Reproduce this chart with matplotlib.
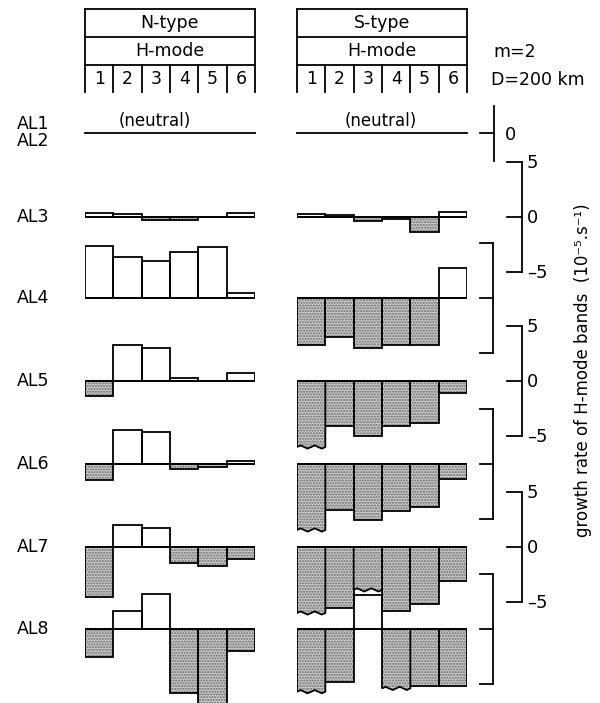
"""
Growth rate of the H-mode bands (m = 2, D = 200 km) for the
atmosphere models AL1 ... AL8, N-type and S-type, modes 1-6.

Each row is drawn on its own axes in units of 1e-5 s^-1; rows share
the same vertical scale so the brackets on the right (+-5) apply to all.
Positive rates are open bars, negative rates are stippled.  Bars that
run off their row are drawn with a torn (wavy) lower edge.
"""
import numpy as np
import matplotlib
matplotlib.use("Agg")
import matplotlib.pyplot as plt
from matplotlib.patches import Polygon

plt.rcParams['font.family'] = ['DejaVu Sans']

# ------------------------------------------------------------------------
# data: growth rates (1e-5 s^-1) per H-mode 1..6
# ------------------------------------------------------------------------
modes = [1, 2, 3, 4, 5, 6]
row_names = ['AL3', 'AL4', 'AL5', 'AL6', 'AL7', 'AL8']

n_al3 = [0.35, 0.25, -0.3, -0.25, 0.0, 0.4]
n_al4 = [4.7, 3.7, 3.4, 4.2, 4.6, 0.45]
n_al5 = [-1.4, 3.3, 3.0, 0.3, 0.0, 0.7]
n_al6 = [-1.45, 3.1, 2.9, -0.45, -0.25, 0.3]
n_al7 = [-4.5, 2.0, 1.7, -1.45, -1.75, -1.05]
n_al8 = [-2.5, 1.6, 3.2, -5.8, -7.0, -2.0]

s_al3 = [0.3, 0.15, -0.35, -0.15, -1.4, 0.5]
s_al4 = [-4.3, -3.5, -4.5, -4.3, -4.3, 2.7]
s_al5 = [-6.0, -4.1, -5.0, -4.1, -3.8, -1.05]
s_al6 = [-6.0, -4.2, -5.1, -4.3, -3.9, -1.4]
s_al7 = [-6.0, -5.5, -3.9, -5.8, -5.2, -3.1]
s_al8 = [-5.7, -4.8, 3.1, -5.4, -5.2, -5.2]

# bars whose value runs past the drawing (torn edge)
s_al5_cut = [1, 0, 0, 0, 0, 0]
s_al6_cut = [1, 0, 0, 0, 0, 0]
s_al7_cut = [1, 0, 1, 0, 0, 0]
s_al8_cut = [1, 0, 0, 1, 0, 0]
no_cut = [0, 0, 0, 0, 0, 0]

n_rows = [n_al3, n_al4, n_al5, n_al6, n_al7, n_al8]
s_rows = [s_al3, s_al4, s_al5, s_al6, s_al7, s_al8]
s_cuts = [no_cut, no_cut, s_al5_cut, s_al6_cut, s_al7_cut, s_al8_cut]

# ------------------------------------------------------------------------
# layout (pixels on a 600 x 703 canvas)
# ------------------------------------------------------------------------
W, H = 600, 703
PX = 11.0                         # pixels per 1e-5 s^-1
N_X = (85, 255)
S_X = (297, 467)
base_neutral = 133
bases = [217, 298, 381, 464, 547, 629]
LW = 1.3
STIPPLE = '#c9c9c9'

fig = plt.figure(figsize=(W / 100, H / 100), dpi=100)
fig.patch.set_facecolor('white')

ov = fig.add_axes([0, 0, 1, 1])
ov.set_xlim(0, W)
ov.set_ylim(H, 0)
ov.axis('off')


def panel_axes(x0, x1, base, half=9.0):
    ax = fig.add_axes([x0 / W, 1 - (base + half * PX) / H,
                       (x1 - x0) / W, 2 * half * PX / H])
    ax.set_xlim(0.5, 6.5)
    ax.set_ylim(-half, half)
    ax.axis('off')
    return ax


def torn_bar(ax, x, v, shaded):
    # bottom edge as a small ripple instead of a straight line
    amp = 1.6 / PX
    xs = np.linspace(x + 0.5, x - 0.5, 9)
    ripple = np.array([0, -1, 0, 1, 0, -1, 0, 1, 0]) * amp
    pts = [(x - 0.5, 0), (x + 0.5, 0)] + list(zip(xs, v + ripple))
    if shaded:
        ax.add_patch(Polygon(pts, closed=True, facecolor=STIPPLE,
                             edgecolor='#6a6a6a', hatch='......', lw=0))
    ax.add_patch(Polygon(pts, closed=True, fill=False,
                         edgecolor='black', lw=LW))


def draw_row(ax, vals, cuts):
    vals = np.asarray(vals, dtype=float)
    neg = vals < 0
    keep = [i for i in range(6) if not cuts[i]]
    xs = np.array(modes)[keep]
    vs = vals[keep]
    ng = neg[keep]
    if ng.any():
        ax.bar(xs[ng], vs[ng], width=1.0, color=STIPPLE, edgecolor='#6a6a6a',
               hatch='......', lw=0)
    ax.bar(xs, vs, width=1.0, fill=False, edgecolor='black', lw=LW)
    for i in range(6):
        if cuts[i]:
            torn_bar(ax, modes[i], vals[i], neg[i])
    ax.hlines(0, 0.5, 6.5, color='black', lw=LW)


for name, base, nv, sv, sc in zip(row_names, bases, n_rows, s_rows, s_cuts):
    draw_row(panel_axes(*N_X, base), nv, no_cut)
    draw_row(panel_axes(*S_X, base), sv, sc)
    ov.text(17, base, name, ha='left', va='center', fontsize=12.5)

# AL1 / AL2: neutral
for x0, x1 in (N_X, S_X):
    ov.plot([x0, x1], [base_neutral, base_neutral], color='black', lw=LW)
ov.text(155, 121, '(neutral)', ha='center', va='center', fontsize=12)
ov.text(381, 121, '(neutral)', ha='center', va='center', fontsize=12)
ov.text(17, 124, 'AL1', ha='left', va='center', fontsize=12.5)
ov.text(17, 141, 'AL2', ha='left', va='center', fontsize=12.5)

# ------------------------------------------------------------------------
# header boxes
# ------------------------------------------------------------------------
for (x0, x1), kind in ((N_X, 'N-type'), (S_X, 'S-type')):
    k = dict(color='black', lw=LW)
    ov.plot([x0, x1], [9, 9], **k)
    ov.plot([x0, x1], [37, 37], **k)
    ov.plot([x0, x1], [65, 65], **k)
    ov.plot([x0, x0], [9, 92], **k)
    ov.plot([x1, x1], [9, 92], **k)
    cw = (x1 - x0) / 6
    for j in range(1, 6):
        ov.plot([x0 + j * cw, x0 + j * cw], [65, 92], **k)
    xc = (x0 + x1) / 2
    ov.text(xc, 23, kind, ha='center', va='center', fontsize=12.5)
    ov.text(xc, 51, 'H-mode', ha='center', va='center', fontsize=12.5)
    for j, m in enumerate(modes):
        ov.text(x0 + (j + 0.5) * cw, 79, str(m), ha='center', va='center',
                fontsize=12.5)

ov.text(493, 52, 'm=2', ha='left', va='center', fontsize=12.5)
ov.text(491, 80, 'D=200 km', ha='left', va='center', fontsize=12.5)

# ------------------------------------------------------------------------
# scale brackets (+-5 units)
# ------------------------------------------------------------------------
k = dict(color='black', lw=LW)
ov.plot([494, 494], [base_neutral - 2.5 * PX, base_neutral + 2.5 * PX], **k)
ov.plot([480, 494], [base_neutral, base_neutral], **k)
ov.text(505, base_neutral + 2, '0', ha='left', va='center', fontsize=13)

for i, base in enumerate(bases):
    top, bot = base - 5 * PX, base + 5 * PX
    if i % 2 == 0:
        xv, xt = 522, 507
        ov.plot([xv, xv], [top, bot], **k)
        for y, lab in ((top, '5'), (base, '0'), (bot, '\u20135')):
            ov.plot([xt, xv], [y, y], **k)
            ov.text(527, y + 1, lab, ha='left', va='center', fontsize=13)
    else:
        xv, xt = 493, 480
        ov.plot([xv, xv], [top, bot], **k)
        for y in (top, base, bot):
            ov.plot([xt, xv], [y, y], **k)

ov.text(583, 370, 'growth rate of H-mode bands  (10\u207b\u2075.s\u207b\u00b9)',
        rotation=90, ha='center', va='center', fontsize=12)

fig.savefig('out.png', dpi=100)
